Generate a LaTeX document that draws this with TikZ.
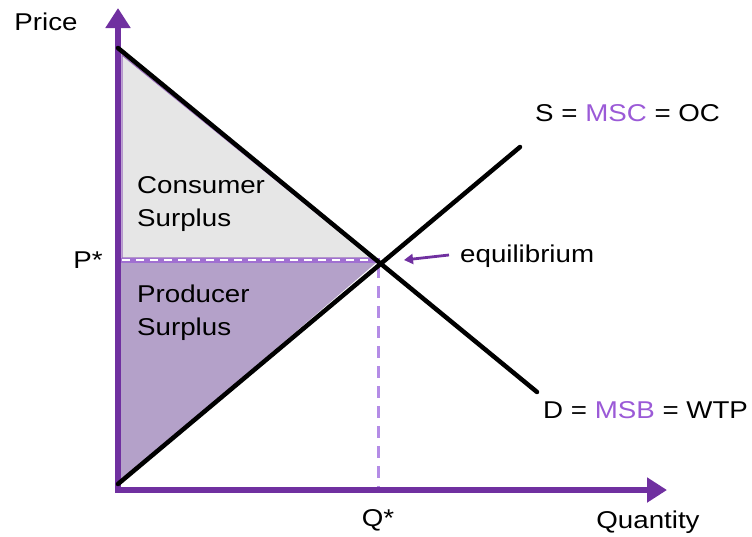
\documentclass[tikz,border=0pt]{standalone}
\usepackage{fontspec}
\setmainfont{Liberation Sans}[FakeStretch=1.14]
\usetikzlibrary{arrows.meta}
\definecolor{axpurple}{RGB}{112,48,160}
\definecolor{lightpurple}{RGB}{155,90,215}
\definecolor{dashpurple}{RGB}{180,140,230}
\definecolor{psfill}{RGB}{180,161,201}
\definecolor{csfill}{RGB}{230,230,230}
\begin{document}
\begin{tikzpicture}[x=1pt,y=-1pt,
  lbl/.style={font=\fontsize{24.3}{33}\selectfont, inner sep=0pt},
  axisline/.style={draw=axpurple, line width=6.5pt, -{Triangle[width=24pt,length=20pt]}},
  curve/.style={draw=black, line width=4.5pt, line cap=round}]
\useasboundingbox (0,0) rectangle (752,536);
\coordinate (O) at (118,490);
\coordinate (ytip) at (118,8);
\coordinate (xtip) at (667,490);
\coordinate (Dtop) at (118,48);
\coordinate (Dend) at (537,392);
\coordinate (Sbot) at (118,484);
\coordinate (Send) at (520,147);
\coordinate (E) at (380,260);
% surplus areas
\fill[psfill] (118,262) -- (377,262) -- (118,484) -- cycle;
\filldraw[fill=csfill, draw=axpurple!70, line width=1.2pt] (122,55) -- (122,258) -- (372,258) -- cycle;
% P* dashed line
\draw[dashpurple!70!axpurple, line width=5pt] (118,260) -- (E);
\draw[white, line width=2.2pt, dash pattern=on 8pt off 6pt] (122,260) -- (376,260);
% Q* dashed line
\draw[dashpurple, line width=3pt, dash pattern=on 12pt off 8pt] (378,266) -- (378,490);
% axes
\draw[axisline] (O) -- (ytip);
\draw[axisline] ([xshift=-3.25pt]O) -- (xtip);
% curves
\draw[curve] (Dtop) -- (Dend);
\draw[curve] (Sbot) -- (Send);
% equilibrium arrow
\coordinate (eqarrstart) at (449,255);
\coordinate (eqarrend) at (404,260);
\draw[axpurple, line width=2.8pt, -{Triangle[width=10pt,length=9pt]}] (eqarrstart) -- (eqarrend);
% labels
\node[lbl] (price) at (46,22) {Price};
\node[lbl] (pstar) at (88,260) {P*};
\node[lbl] (qstar) at (378,520) {Q*};
\node[lbl] (qty) at (648,522) {Quantity};
\node[lbl, anchor=west] (eq) at (460,256) {equilibrium};
\node[lbl, anchor=west] (slbl) at (535,113) {S = \textcolor{lightpurple}{MSC} = OC};
\node[lbl, anchor=west] (dlbl) at (543,410) {D = \textcolor{lightpurple}{MSB} = WTP};
\node[lbl, anchor=west, align=left] (cs) at (137,204) {Consumer\\Surplus};
\node[lbl, anchor=west, align=left] (ps) at (137,313) {Producer\\Surplus};
\end{tikzpicture}
\end{document}
